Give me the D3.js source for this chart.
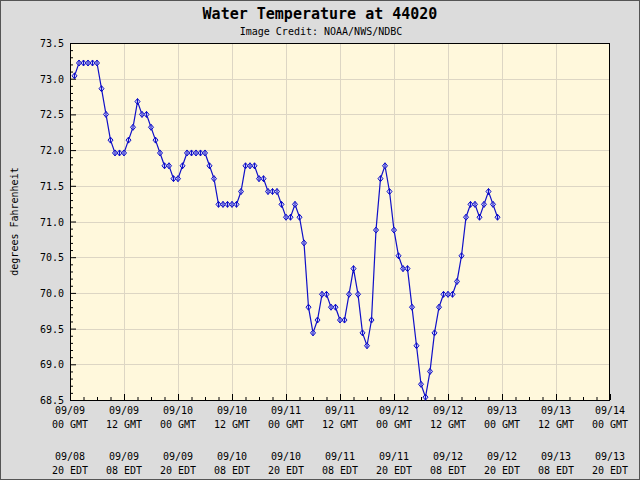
<!DOCTYPE html>
<html><head><meta charset="utf-8">
<script src="https://cdn.jsdelivr.net/npm/d3@7"></script>
<style>body{margin:0;background:#dcdcdc}svg{display:block}</style>
</head><body>
<script>
// Hourly water temperature (°F), starting 09/09 01 GMT
const temps = [
 73.04,73.22,73.22,73.22,73.22,73.22,72.86,72.50,72.14,71.96,
 71.96,71.96,72.14,72.32,72.68,72.50,72.50,72.32,72.14,71.96,
 71.78,71.78,71.60,71.60,71.78,71.96,71.96,71.96,71.96,71.96,
 71.78,71.60,71.24,71.24,71.24,71.24,71.24,71.42,71.78,71.78,
 71.78,71.60,71.60,71.42,71.42,71.42,71.24,71.06,71.06,71.24,
 71.06,70.70,69.80,69.44,69.62,69.98,69.98,69.80,69.80,69.62,
 69.62,69.98,70.34,69.98,69.44,69.26,69.62,70.88,71.60,71.78,
 71.42,70.88,70.52,70.34,70.34,69.80,69.26,68.72,68.54,68.90,
 69.44,69.80,69.98,69.98,69.98,70.16,70.52,71.06,71.24,71.24,
 71.06,71.24,71.42,71.24,71.06];
const firstHour = 1; // hours after 09/09 00 GMT
const gmtDates = ["09/09","09/09","09/10","09/10","09/11","09/11","09/12","09/12","09/13","09/13","09/14"];
const gmtHours = ["00 GMT","12 GMT","00 GMT","12 GMT","00 GMT","12 GMT","00 GMT","12 GMT","00 GMT","12 GMT","00 GMT"];
const edtDates = ["09/08","09/09","09/09","09/10","09/10","09/11","09/11","09/12","09/12","09/13","09/13"];
const edtHours = ["20 EDT","08 EDT","20 EDT","08 EDT","20 EDT","08 EDT","20 EDT","08 EDT","20 EDT","08 EDT","20 EDT"];
const yTicks = [68.5,69.0,69.5,70.0,70.5,71.0,71.5,72.0,72.5,73.0,73.5];

const W=640,H=480, L=70,R=610,T=43,B=400;
const mono = "'DejaVu Sans Mono', monospace";
const svg = d3.select("body").append("svg").attr("width",W).attr("height",H);
svg.append("rect").attr("x",0.5).attr("y",0.5).attr("width",W-1).attr("height",H-1)
  .attr("fill","#dcdcdc").attr("stroke","#555");

const x = d3.scaleLinear().domain([0,120]).range([L,R]);
const y = d3.scaleLinear().domain([68.5,73.5]).range([B,T]);

svg.append("rect").attr("x",L).attr("y",T).attr("width",R-L).attr("height",B-T).attr("fill","#fff8dc");

// grid
const majorX = d3.range(0,121,12);
svg.append("g").selectAll("line").data(majorX.slice(1,-1)).join("line")
  .attr("x1",d=>Math.round(x(d))+0.5).attr("x2",d=>Math.round(x(d))+0.5)
  .attr("y1",T).attr("y2",B).attr("stroke","#ddd6c4");
svg.append("g").selectAll("line").data(yTicks.slice(1,-1)).join("line")
  .attr("y1",d=>Math.round(y(d))+0.5).attr("y2",d=>Math.round(y(d))+0.5)
  .attr("x1",L).attr("x2",R).attr("stroke","#ddd6c4");

// axes with inward ticks
const yAxis = d3.axisRight(y).tickValues(d3.range(685,736,1).map(v=>v/10)).tickSize(3).tickFormat("");
const gy = svg.append("g").attr("transform",`translate(${L},0)`).call(yAxis);
gy.selectAll(".tick line").filter(d=>yTicks.includes(d)).attr("x2",6);
gy.select(".domain").remove();
const xAxis = d3.axisTop(x).tickValues(d3.range(0,121,3)).tickSize(3).tickFormat("");
const gx = svg.append("g").attr("transform",`translate(0,${B})`).call(xAxis);
gx.selectAll(".tick line").filter(d=>d%12===0).attr("y2",-6);
gx.select(".domain").remove();
svg.selectAll(".tick line").attr("stroke","#000");

svg.append("rect").attr("x",L+0.5).attr("y",T+0.5).attr("width",R-L-1).attr("height",B-T)
  .attr("fill","none").attr("stroke","#000");

// y labels
svg.append("g").selectAll("text").data(yTicks).join("text")
  .attr("x",L-6).attr("y",d=>y(d)+4).attr("text-anchor","end")
  .attr("font-family",mono).attr("font-size",10).text(d=>d.toFixed(1));

// x labels
const xl = svg.append("g").attr("font-family",mono).attr("font-size",10).attr("text-anchor","middle");
const rows = [[gmtDates,414],[gmtHours,428],[edtDates,460],[edtHours,474]];
rows.forEach(([arr,yy])=>{
  xl.append("g").selectAll("text").data(arr).join("text")
    .attr("x",(d,i)=>x(majorX[i])).attr("y",yy).text(d=>d);
});

// titles
svg.append("text").attr("x",320).attr("y",19).attr("text-anchor","middle")
  .attr("font-family",mono).attr("font-weight","bold").attr("font-size",15)
  .text("Water Temperature at 44020");
svg.append("text").attr("x",321).attr("y",35).attr("text-anchor","middle")
  .attr("font-family",mono).attr("font-size",10).text("Image Credit: NOAA/NWS/NDBC");
svg.append("text").attr("transform",`translate(18,${(T+B)/2}) rotate(-90)`).attr("text-anchor","middle")
  .attr("font-family",mono).attr("font-size",10).text("degrees Fahrenheit");

// line
const pts = temps.map((v,i)=>[firstHour+i,v]);
svg.append("path").datum(pts).attr("fill","none").attr("stroke","#1010c8").attr("stroke-width",1.2)
  .attr("d",d3.line().x(d=>x(d[0])).y(d=>y(d[1])));
const mk = svg.append("g").selectAll("g").data(pts).join("g")
  .attr("transform",d=>`translate(${x(d[0])},${y(d[1])})`);
mk.append("path").attr("d","M0,-3L2.5,0L0,3L-2.5,0Z").attr("fill","#c8c8f0").attr("stroke","#1010c8").attr("stroke-width",1);
mk.append("line").attr("y1",-3).attr("y2",3).attr("stroke","#1010c8").attr("stroke-width",1);
</script>
</body></html>
